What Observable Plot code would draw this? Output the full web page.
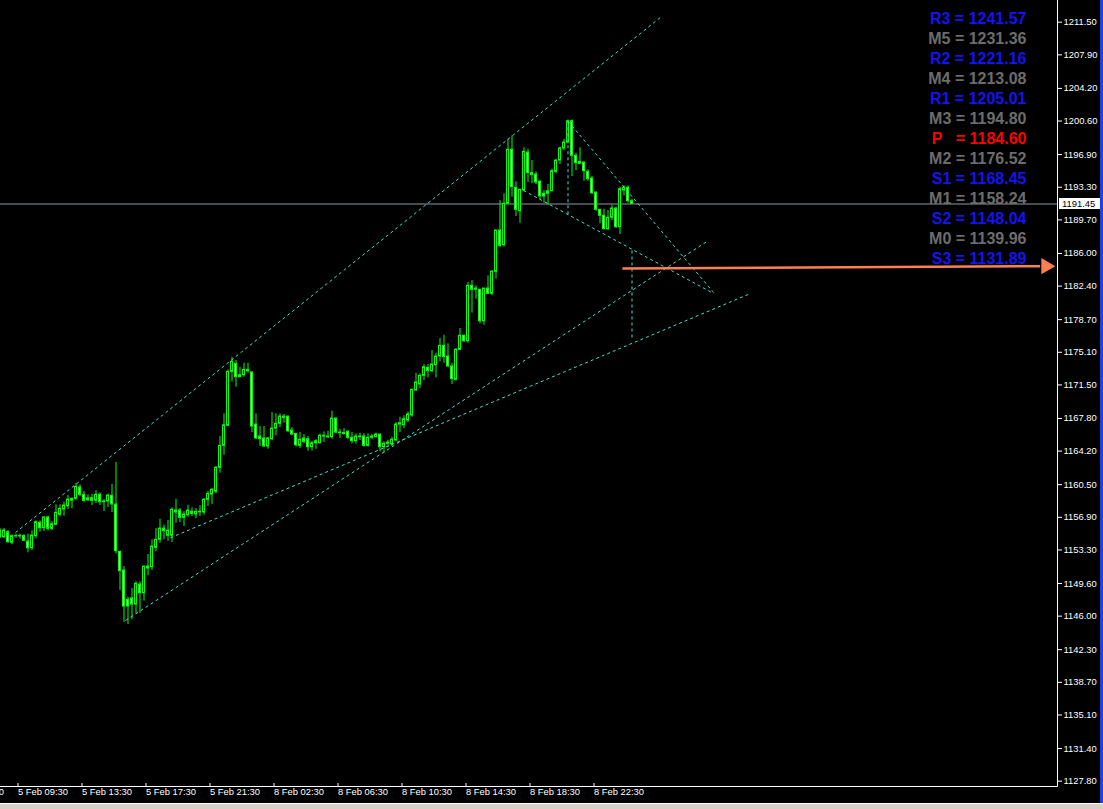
<!DOCTYPE html>
<html>
<head>
<meta charset="utf-8">
<script src="https://cdn.jsdelivr.net/npm/d3@7"></script>
<script src="https://cdn.jsdelivr.net/npm/@observablehq/plot@0.6"></script>
<style>
  html, body { margin: 0; padding: 0; background: #000; overflow: hidden; }
  #wrap { position: relative; width: 1103px; height: 809px; background: #000; }
  #strip { position: absolute; left: 0; top: 803px; width: 1103px; height: 6px; background: #d4d0c8; border-top: 1px solid #fff; box-sizing: border-box; }
  #edge { position: absolute; left: 1100px; top: 0; width: 3px; height: 803px; background: #1e40e6; }
</style>
</head>
<body>
<div id="wrap"><div id="chart"></div><div id="edge"></div><div id="strip"></div></div>
<script>
// ---- M15 candles (first entry is the partially visible bar at the left edge) ----
const opens = [
  1154.70,1154.70,1155.25,1154.09,1154.82,1154.80,1154.82,1154.23,1153.49,1154.82,
  1156.29,1155.70,1156.88,1155.63,1156.07,1157.17,1157.76,1158.12,1158.72,1158.94,
  1160.19,1159.38,1158.78,1159.00,1158.72,1159.38,1158.56,1158.64,1159.27,1158.31,
  1153.09,1151.03,1147.80,1147.95,1147.28,1149.49,1148.53,1151.25,1151.40,1153.53,
  1154.42,1155.66,1154.86,1154.86,1157.65,1157.65,1156.84,1157.13,1157.51,1157.21,
  1157.51,1157.43,1158.83,1159.41,1159.71,1162.36,1164.78,1166.99,1172.94,1173.83,
  1172.35,1172.57,1173.16,1172.87,1167.13,1165.81,1165.59,1164.71,1165.51,1166.69,
  1167.21,1168.01,1168.01,1166.47,1166.10,1164.78,1165.59,1165.51,1164.63,1165.07,
  1165.07,1165.89,1165.81,1165.73,1167.79,1166.25,1166.18,1166.32,1165.67,1165.29,
  1165.81,1165.81,1164.78,1165.67,1165.73,1166.03,1164.63,1165.00,1164.93,1165.37,
  1167.13,1167.05,1167.57,1168.13,1170.88,1171.54,1172.50,1173.38,1173.01,1173.67,
  1174.63,1175.81,1174.63,1173.53,1172.06,1175.37,1176.91,1176.32,1182.43,1181.99,
  1181.99,1178.52,1182.13,1181.55,1183.97,1188.53,1186.91,1191.47,1197.43,1193.24,
  1190.65,1192.94,1197.13,1194.85,1194.70,1193.90,1192.57,1192.57,1192.86,1195.00,
  1196.25,1197.57,1198.23,1200.58,1196.76,1196.10,1196.02,1195.00,1194.26,1192.72,
  1190.81,1190.15,1188.67,1189.93,1190.95,1188.89,1192.94,1193.24,1191.76
];
const highs = [
  1155.66,1155.66,1155.44,1154.97,1155.04,1155.04,1154.97,1155.04,1155.41,1156.51,
  1156.51,1156.95,1157.02,1156.43,1158.28,1158.28,1158.57,1159.30,1159.00,1160.63,
  1160.48,1159.75,1159.38,1159.45,1159.82,1159.60,1158.86,1159.45,1160.52,1162.94,
  1153.16,1151.47,1148.09,1149.05,1149.79,1149.79,1151.47,1152.80,1154.42,1155.66,
  1156.69,1156.03,1156.55,1157.95,1158.90,1157.87,1157.51,1158.23,1157.95,1157.87,
  1158.17,1158.97,1159.78,1160.08,1162.50,1165.81,1168.31,1173.16,1174.56,1174.19,
  1173.45,1173.89,1173.89,1172.94,1168.31,1166.91,1166.91,1165.73,1168.46,1168.31,
  1168.31,1168.24,1168.05,1166.77,1166.15,1166.25,1166.03,1165.81,1165.29,1165.45,
  1166.10,1166.32,1166.39,1168.60,1167.87,1166.61,1166.69,1166.47,1166.25,1166.10,
  1166.18,1166.10,1166.10,1166.03,1166.18,1166.05,1165.23,1165.37,1165.73,1167.35,
  1167.94,1168.09,1168.53,1171.03,1172.79,1172.72,1173.75,1173.75,1175.29,1175.00,
  1176.62,1176.98,1176.03,1173.89,1175.51,1177.72,1176.98,1182.79,1183.01,1182.43,
  1182.06,1182.13,1183.53,1184.12,1188.53,1191.83,1192.57,1198.60,1198.97,1193.90,
  1193.02,1197.65,1197.49,1196.25,1195.00,1194.04,1192.94,1193.60,1195.29,1196.32,
  1197.71,1198.60,1200.73,1200.73,1197.05,1197.65,1196.10,1195.22,1194.48,1192.75,
  1190.85,1190.87,1190.73,1191.32,1191.10,1193.30,1193.46,1193.46,1191.98
];
const lows = [
  1154.56,1154.56,1154.04,1153.87,1154.59,1154.52,1154.23,1152.98,1153.24,1154.53,
  1155.25,1155.33,1155.41,1155.41,1155.99,1156.95,1157.02,1157.76,1157.84,1158.75,
  1159.16,1158.50,1158.64,1158.20,1158.42,1158.20,1157.54,1157.98,1157.43,1152.87,
  1148.82,1145.33,1145.08,1145.60,1146.26,1146.32,1147.65,1150.45,1151.03,1153.09,
  1154.04,1154.42,1154.26,1154.12,1156.25,1156.33,1155.88,1156.91,1156.99,1156.77,
  1156.99,1157.13,1158.09,1158.31,1159.49,1161.76,1163.75,1166.91,1171.84,1171.25,
  1172.35,1172.35,1172.79,1166.25,1165.45,1164.71,1164.60,1164.41,1165.37,1165.89,
  1166.77,1167.28,1166.25,1165.89,1164.63,1164.49,1164.99,1164.19,1164.19,1164.41,
  1164.99,1165.15,1165.59,1165.51,1166.10,1165.59,1165.95,1165.45,1164.99,1164.99,
  1165.37,1164.63,1164.63,1165.45,1165.67,1164.12,1163.97,1164.63,1164.71,1165.23,
  1166.25,1166.69,1167.35,1167.94,1170.80,1171.10,1171.98,1172.28,1172.87,1172.28,
  1174.05,1173.89,1173.45,1171.54,1171.91,1175.29,1176.17,1176.10,1179.41,1180.95,
  1178.24,1178.08,1181.50,1181.33,1183.16,1186.62,1186.68,1191.40,1192.20,1190.07,
  1189.33,1192.80,1193.82,1193.68,1193.60,1191.91,1191.54,1191.32,1192.80,1194.78,
  1195.80,1197.35,1198.09,1194.48,1195.14,1195.80,1193.96,1193.96,1192.50,1190.65,
  1189.27,1188.60,1188.53,1189.63,1188.75,1188.08,1192.35,1191.54,1191.40
];
const closes = [
  1155.44,1155.44,1154.15,1154.82,1154.80,1154.85,1154.31,1153.49,1154.89,1156.36,
  1155.70,1156.88,1155.63,1156.14,1157.40,1157.84,1158.20,1158.86,1158.94,1160.26,
  1159.38,1158.72,1159.00,1158.72,1159.38,1158.56,1158.64,1159.30,1158.31,1153.16,
  1150.96,1147.06,1147.06,1147.28,1149.57,1148.53,1151.47,1151.47,1153.68,1154.42,
  1155.66,1155.37,1155.44,1157.73,1157.43,1156.84,1157.21,1157.65,1157.28,1157.51,
  1157.45,1158.83,1159.49,1159.93,1162.36,1164.78,1167.05,1172.94,1174.05,1172.35,
  1172.57,1173.16,1173.01,1166.91,1165.59,1165.51,1164.71,1165.59,1166.69,1167.21,
  1168.01,1167.87,1166.39,1166.03,1164.85,1165.45,1165.23,1164.63,1165.07,1165.29,
  1165.89,1165.81,1165.73,1167.79,1166.25,1166.18,1166.10,1165.67,1165.29,1165.81,
  1165.73,1164.78,1165.67,1165.81,1166.03,1164.63,1165.00,1165.15,1165.45,1167.13,
  1167.28,1167.72,1168.24,1170.96,1171.76,1172.50,1173.45,1173.01,1173.75,1174.63,
  1175.81,1174.56,1173.53,1172.13,1175.37,1176.91,1176.32,1182.43,1181.99,1182.13,
  1178.52,1182.13,1181.55,1183.97,1188.53,1186.84,1191.47,1197.43,1193.30,1190.81,
  1193.02,1197.21,1194.85,1194.63,1193.82,1192.28,1192.28,1192.86,1195.07,1196.25,
  1197.57,1198.23,1200.58,1196.76,1195.95,1195.88,1195.07,1194.18,1192.64,1190.81,
  1190.15,1188.67,1189.93,1190.95,1188.89,1193.08,1193.24,1191.76,1191.45
];

// ---- time axis ----
const timeTickBars = [-11, 5, 21, 37, 53, 69, 85, 101, 117, 133, 149];
const timeTickLabels = ["5 Feb 05:30","5 Feb 09:30","5 Feb 13:30","5 Feb 17:30","5 Feb 21:30",
  "8 Feb 02:30","8 Feb 06:30","8 Feb 10:30","8 Feb 14:30","8 Feb 18:30","8 Feb 22:30"];

// ---- price axis ----
const priceTicks = [1211.50,1207.90,1204.20,1200.60,1196.90,1193.30,1189.70,1186.00,1182.40,
  1178.70,1175.10,1171.50,1167.80,1164.20,1160.50,1156.90,1153.30,1149.60,1146.00,1142.30,
  1138.70,1135.10,1131.40,1127.80];
const lastPrice = 1191.45;

// ---- pivot levels ----
const pivotNames  = ["R3","M5","R2","M4","R1","M3","P","M2","S1","M1","S2","M0","S3"];
const pivotValues = [1241.57,1231.36,1221.16,1213.08,1205.01,1194.80,1184.60,1176.52,1168.45,1158.24,1148.04,1139.96,1131.89];
const pivotKinds  = ["R","M","R","M","R","M","P","M","S","M","S","M","S"];

// ---- drawn trend lines (bar number, price) ----
const lineBar1   = [3.875, 31.375, 42.6, 142, 130.9, 142, 158];
const linePrice1 = [1155.22, 1145.52, 1154.64, 1200.58, 1192.94, 1200.58, 1186.32];
const lineBar2   = [165.1, 177.1, 187.6, 178.4, 178.4, 142, 158];
const linePrice2 = [1212.02, 1187.42, 1181.58, 1181.69, 1181.58, 1190.29, 1176.40];

// ---- arrow toward the pivot level ----
const arrowBars   = [155.6, 263.0];
const arrowPrices = [1184.35, 1184.60];

// ---- build ----
const bars = opens.map((o, j) => ({bar: j, open: o, high: highs[j], low: lows[j], close: closes[j]}));
const lines = lineBar1.map((b, j) => ({x1: b, y1: linePrice1[j], x2: lineBar2[j], y2: linePrice2[j]}));
const kindColor = {R: "#1414f0", S: "#1414f0", M: "#6c6c6c", P: "#ff0000"};
const GREEN = "#00ff00";
const TURQ = "#40e0d0";
const ORANGE = "#ff7f50";
const AXIS_FONT = 9.4;

const pivotMarks = pivotNames.map((n, k) => Plot.text([n], {
  frameAnchor: "top-right",
  text: d => (d === "P" ? "P\u00a0\u00a0" : d) + " = " + pivotValues[k].toFixed(2),
  textAnchor: "end",
  lineAnchor: "bottom",
  dx: -31,
  dy: 23 + 20 * k,
  fill: kindColor[pivotKinds[k]],
  fontSize: 16,
  fontWeight: "bold",
  fontFamily: "'Liberation Sans', Arial, sans-serif"
}));

const chart = Plot.plot({
  width: 1103,
  height: 803,
  marginLeft: 0,
  marginRight: 46,
  marginTop: 0,
  marginBottom: 17,
  style: {background: "#000", color: "#fff", fontFamily: "'Liberation Sans', Arial, sans-serif", fontSize: AXIS_FONT + "px", overflow: "visible"},
  x: {domain: [0.125, 264.375]},
  y: {domain: [1127.214, 1213.893]},
  marks: [
    Plot.ruleY([lastPrice], {stroke: "#9098a6"}),
    Plot.ruleX(bars, {x: "bar", y1: "low", y2: "high", stroke: GREEN, strokeWidth: 1}),
    Plot.rect(bars, {
      x1: d => d.bar - 0.25, x2: d => d.bar + 0.25,
      y1: "open", y2: "close",
      fill: d => d.close < d.open ? "#ffffff" : "#000000",
      stroke: GREEN, strokeWidth: 1
    }),
    Plot.link(lines, {x1: "x1", y1: "y1", x2: "x2", y2: "y2", stroke: TURQ, strokeWidth: 1, strokeDasharray: "3,3"}),
    Plot.link([0], {x1: () => arrowBars[0], y1: () => arrowPrices[0], x2: () => arrowBars[1] - 3, y2: () => arrowPrices[1], stroke: ORANGE, strokeWidth: 2.5}),
    Plot.dot([0], {x: () => arrowBars[1], y: () => arrowPrices[1], symbol: "triangle", rotate: 90, r: 6, dx: -6, fill: ORANGE, stroke: "none"}),
    Plot.axisY({anchor: "right", ticks: priceTicks, tickFormat: d => d.toFixed(2), tickSize: 4, tickPadding: 2, label: null, fill: "#fff", stroke: "#fff", fontSize: AXIS_FONT}),
    Plot.axisX({ticks: timeTickBars, tickFormat: d => timeTickLabels[timeTickBars.indexOf(d)], tickSize: 4, tickPadding: 1, textAnchor: "start", dx: -2, dy: -3, label: null, fill: "#fff", stroke: "#fff", fontSize: AXIS_FONT}),
    ...pivotMarks
  ]
});

document.getElementById("chart").appendChild(chart);

// frame lines and the current-price box, positioned through Plot's own scales
const sx = chart.scale("x"), sy = chart.scale("y");
const right = sx.range[1], bottom = sy.range[0];
const svg = d3.select(chart);
svg.append("path")
  .attr("d", `M0,${bottom + 0.5}H${right + 0.5}V0`)
  .attr("fill", "none").attr("stroke", "#fff").attr("stroke-width", 1);
const py = sy.apply(lastPrice);
svg.append("rect").attr("x", right + 2).attr("y", py - 5.5).attr("width", 41).attr("height", 11).attr("fill", "#fff");
svg.append("text").attr("x", right + 5).attr("y", py + 3.5)
  .attr("text-anchor", "start")
  .attr("fill", "#000").attr("font-size", AXIS_FONT)
  .attr("font-family", "'Liberation Sans', Arial, sans-serif")
  .text(lastPrice.toFixed(2));
</script>
</body>
</html>
